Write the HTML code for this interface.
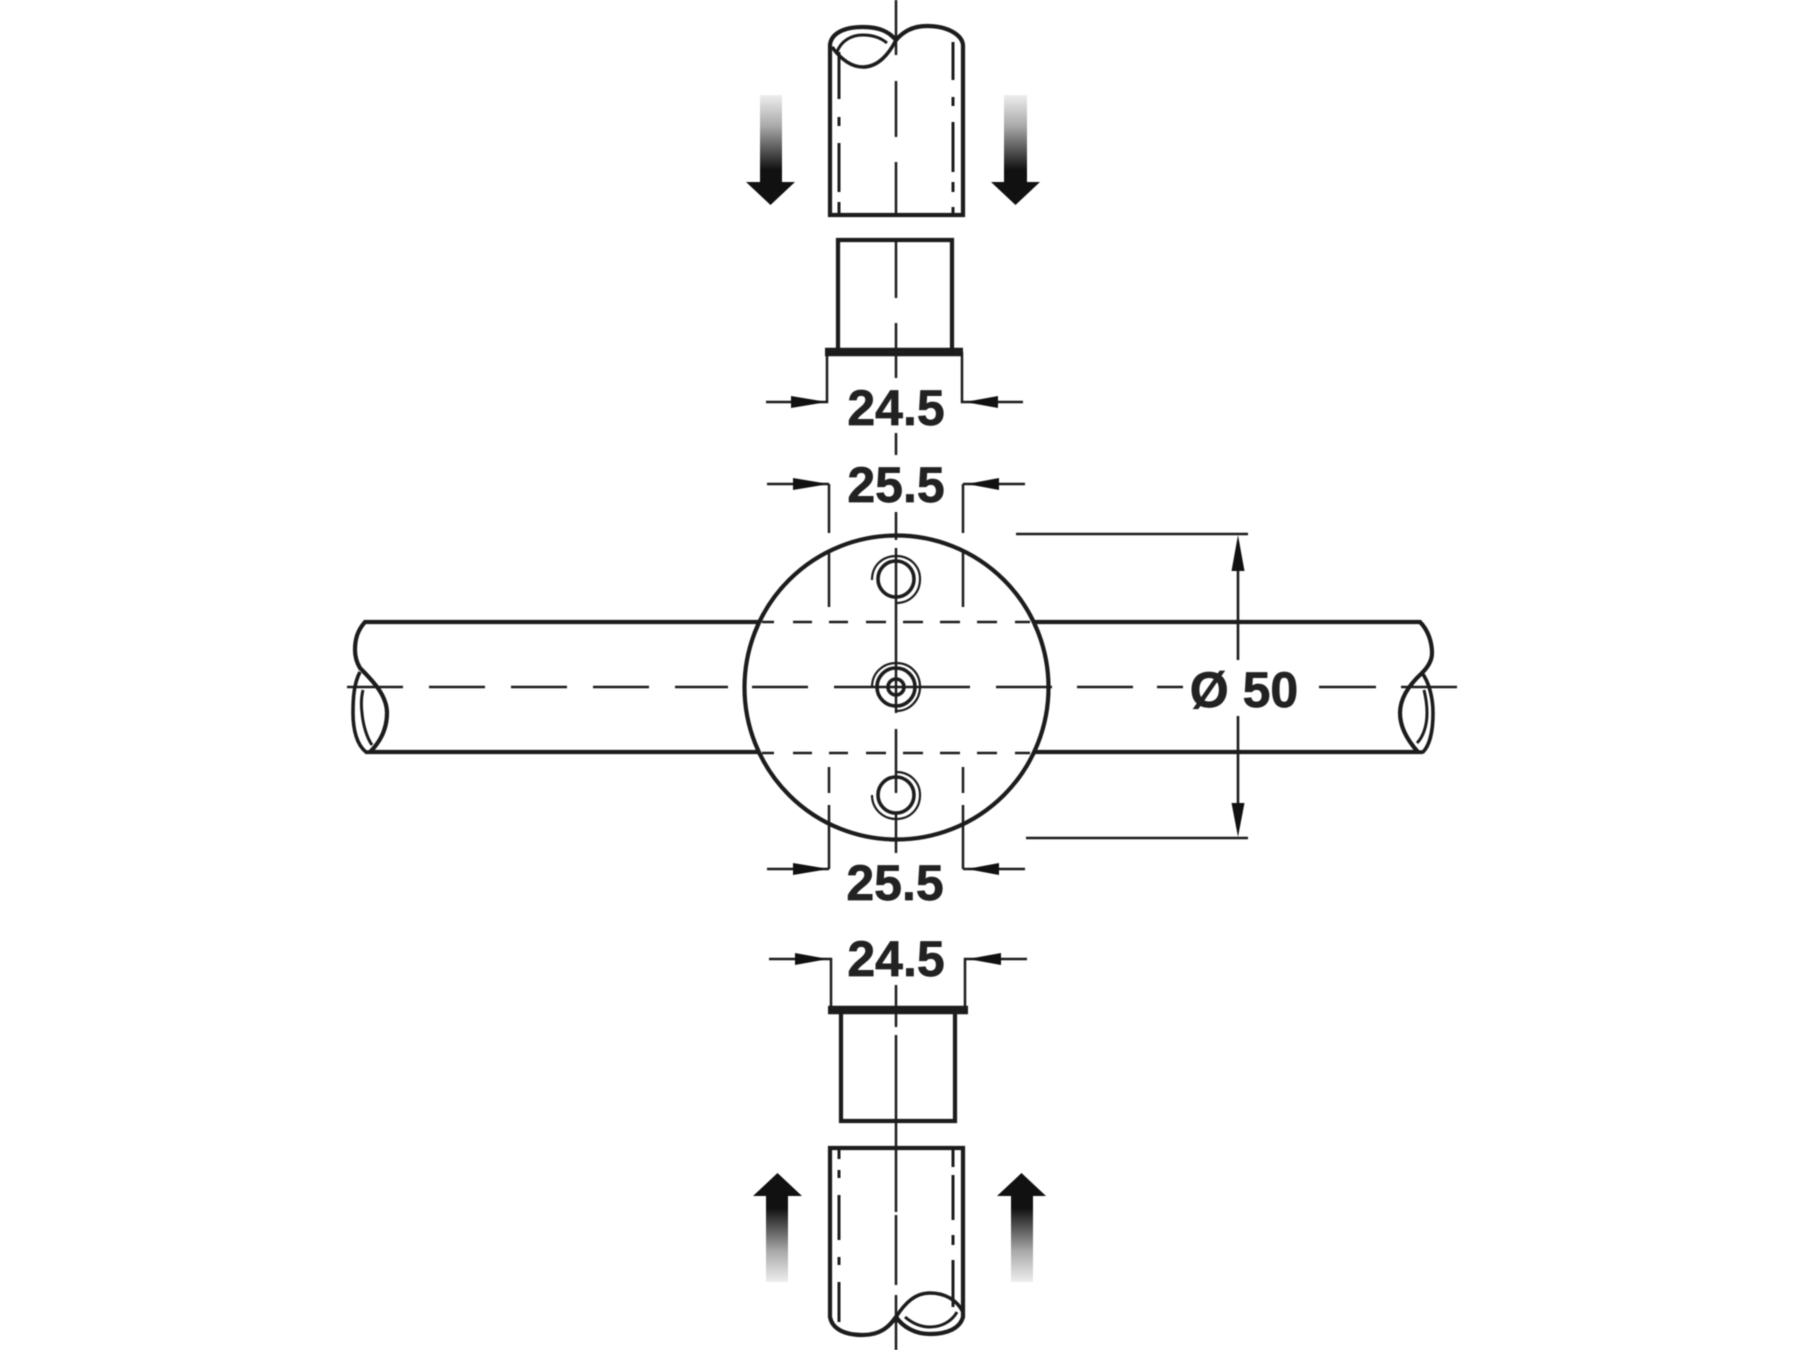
<!DOCTYPE html>
<html><head><meta charset="utf-8"><style>html,body{margin:0;padding:0;background:#fff}svg{display:block;filter:blur(.45px)}text{font-family:"Liberation Sans",Arial,sans-serif;font-weight:bold;font-size:50px;fill:#222;stroke:#222;stroke-width:.7px}</style></head><body>
<svg width="1800" height="1350" viewBox="0 0 1800 1350" xmlns="http://www.w3.org/2000/svg">
<defs>
<linearGradient id="gd" x1="0" y1="0" x2="0" y2="1"><stop offset="0" stop-color="#eee"/><stop offset=".35" stop-color="#aaa"/><stop offset=".85" stop-color="#111"/><stop offset="1" stop-color="#111"/></linearGradient>
<linearGradient id="gu" x1="0" y1="1" x2="0" y2="0"><stop offset="0" stop-color="#eee"/><stop offset=".35" stop-color="#aaa"/><stop offset=".85" stop-color="#111"/><stop offset="1" stop-color="#111"/></linearGradient>
</defs>
<g fill="none" stroke="#1c1c1c" stroke-linecap="butt">
<!-- thin centre vertical -->
<g stroke-width="2.5">
<path d="M896 0V55M896 81V137M896 162V215M896 240V298M896 323V378M896 433V455M896 512V540M896 548V713M896 729V793M896 813V853M896 985V1027M896 1035V1212M896 1215V1285M896 1295V1350"/>
<!-- centre horizontal -->
<path d="M347 687H403M429 687H485M511 687H567M593 687H649M675 687H728M752 687H808M834 687H970M996 687H1052M1077 687H1133M1157 687H1183M1319 687H1376M1401 687H1457"/>
</g>
<!-- upper tube -->
<path stroke-width="4.2" d="M830 215H963V45C962 35 948 26 927 26C912 26 903 32 896 40C889 32 880 27 863 27C843 27 831 34 830 45Z"/>
<path stroke-width="3.6" d="M832 47C840 58 850 67 863 67C878 67 889 54 896 40"/>
<path stroke-width="3" d="M837 52C841 41 851 35 863 35C873 35 881 38 887 43"/>
<path stroke-width="3" d="M839 52V99M839 117V126M839 143V192M839 202V213M953 42V80M953 97V106M953 122V172M953 182V192M953 207V213"/>
<!-- upper insert -->
<path stroke-width="4.2" d="M838 352V240H952V352"/>
<path stroke-width="8.500" d="M825 352H963"/>
<path stroke-width="2.500" d="M827 352V402H766M962 352V402H1023"/>
<!-- circle -->
<circle cx="896.5" cy="687.500" r="152" stroke-width="4.200"/>
<!-- horizontal tube -->
<path stroke-width="4.200" d="M760 622H365C357 631 355 640 355 650C355 658 357 663 360 668C374 682 387 696 387 713C387 730 379 743 370 752H760"/>
<path stroke-width="4.200" d="M1033 622H1420C1428 630 1432 642 1432 653C1432 660 1428 667 1422 673C1410 684 1400 698 1400 713C1400 728 1409 742 1418 752H1033"/>
<path stroke-width="3.600" d="M360 672C354 683 353 698 353 713C353 730 357 745 366 752H372M1422 673C1429 682 1433 698 1433 713C1433 730 1430 745 1423 752H1416"/>
<path stroke-width="3" d="M363 690C361 698 361 705 362 713C363 725 367 738 372 745M1424 690C1426 698 1427 705 1427 713C1427 726 1423 737 1417 743"/>
<!-- dashed inside circle -->
<path stroke-width="2.500" d="M762 622H774M793 622H812M829 622H848M866 622H886M903 622H923M940 622H960M977 622H997M1015 622H1030M762 753H774M793 753H812M829 753H848M866 753H886M903 753H923M940 753H960M977 753H997M1015 753H1030"/>
<path stroke-width="2.500" d="M829 484V533M829 552V607M829 767V793M829 805V869M963 484V533M963 552V607M963 767V793M963 805V869"/>
<path stroke-width="2.500" d="M767 484H829M963 484H1025M767 869H829M963 869H1025"/>
<!-- holes -->
<circle cx="896" cy="579" r="18" stroke-width="3.600"/>
<path stroke-width="2.200" d="M872 580C872 565 883 556 896 556C910 556 920 566 920 579C920 593 910 603 896 603"/>
<circle cx="896" cy="687" r="19" stroke-width="3.600"/>
<circle cx="896" cy="687" r="8" stroke-width="3.600"/>
<path stroke-width="2.200" d="M872 687C872 672 884 663 896 663C910 663 920 673 920 687C920 700 910 711 896 711"/>
<circle cx="896" cy="795" r="18" stroke-width="3.600"/>
<path stroke-width="2.200" d="M896 772C910 772 920 782 920 795C920 809 910 819 896 819C883 819 872 809 872 795"/>
<!-- Ø dimension -->
<path stroke-width="2.600" d="M1016 534H1248M1026 838H1248M1238 571V660M1238 716V803"/>
<!-- lower insert -->
<path stroke-width="4.200" d="M841 1010V1121H955V1010"/>
<path stroke-width="8.500" d="M828 1010H968"/>
<path stroke-width="2.500" d="M831 1010V959H769M965 1010V959H1027"/>
<!-- lower tube -->
<path stroke-width="4.200" d="M830 1148H963V1317C960 1328 948 1334 930 1334C915 1334 903 1327 896 1317C889 1327 880 1335 863 1335C843 1335 832 1328 830 1317Z"/>
<path stroke-width="3.600" d="M896 1317C905 1303 915 1293 930 1293C945 1293 957 1300 963 1312"/>
<path stroke-width="3" d="M905 1317C912 1323 920 1327 930 1327C942 1327 952 1321 957 1312"/>
<path stroke-width="3" d="M839 1150V1159M839 1170V1178M839 1195V1240M839 1257V1265M839 1282V1322M953 1150V1167M953 1175V1220M953 1235V1245M953 1260V1307"/>
</g>
<!-- dim arrowheads -->
<g fill="#111">
<path d="M827 402L791 396V408ZM965 402L998 396V408Z"/>
<path d="M829 484L793 478V490ZM967 484L999 478V490Z"/>
<path d="M829 869L793 863V875ZM967 869L999 863V875Z"/>
<path d="M828 959L795 953V965ZM968 959L1001 953V965Z"/>
<path d="M1238 535L1231.500 571H1244.500ZM1238 837L1231.500 803H1244.500Z"/>
</g>
<!-- big gradient arrows -->
<rect x="760" y="95" width="22" height="88" fill="url(#gd)"/>
<rect x="1004" y="95" width="23" height="88" fill="url(#gd)"/>
<path fill="#111" d="M746 182H795L770.500 205ZM991 182H1040L1015.500 205Z"/>
<rect x="766" y="1195" width="22" height="87" fill="url(#gu)"/>
<rect x="1011" y="1195" width="22" height="87" fill="url(#gu)"/>
<path fill="#111" d="M753 1196H802L777.500 1173ZM997 1196H1046L1021.500 1173Z"/>
<!-- labels -->
<text x="896" y="425" text-anchor="middle">24.5</text>
<text x="896" y="502" text-anchor="middle">25.5</text>
<text x="895" y="900" text-anchor="middle">25.5</text>
<text x="896" y="976" text-anchor="middle">24.5</text>
<text x="1244" y="707" text-anchor="middle">Ø 50</text>
</svg>
</body></html>
